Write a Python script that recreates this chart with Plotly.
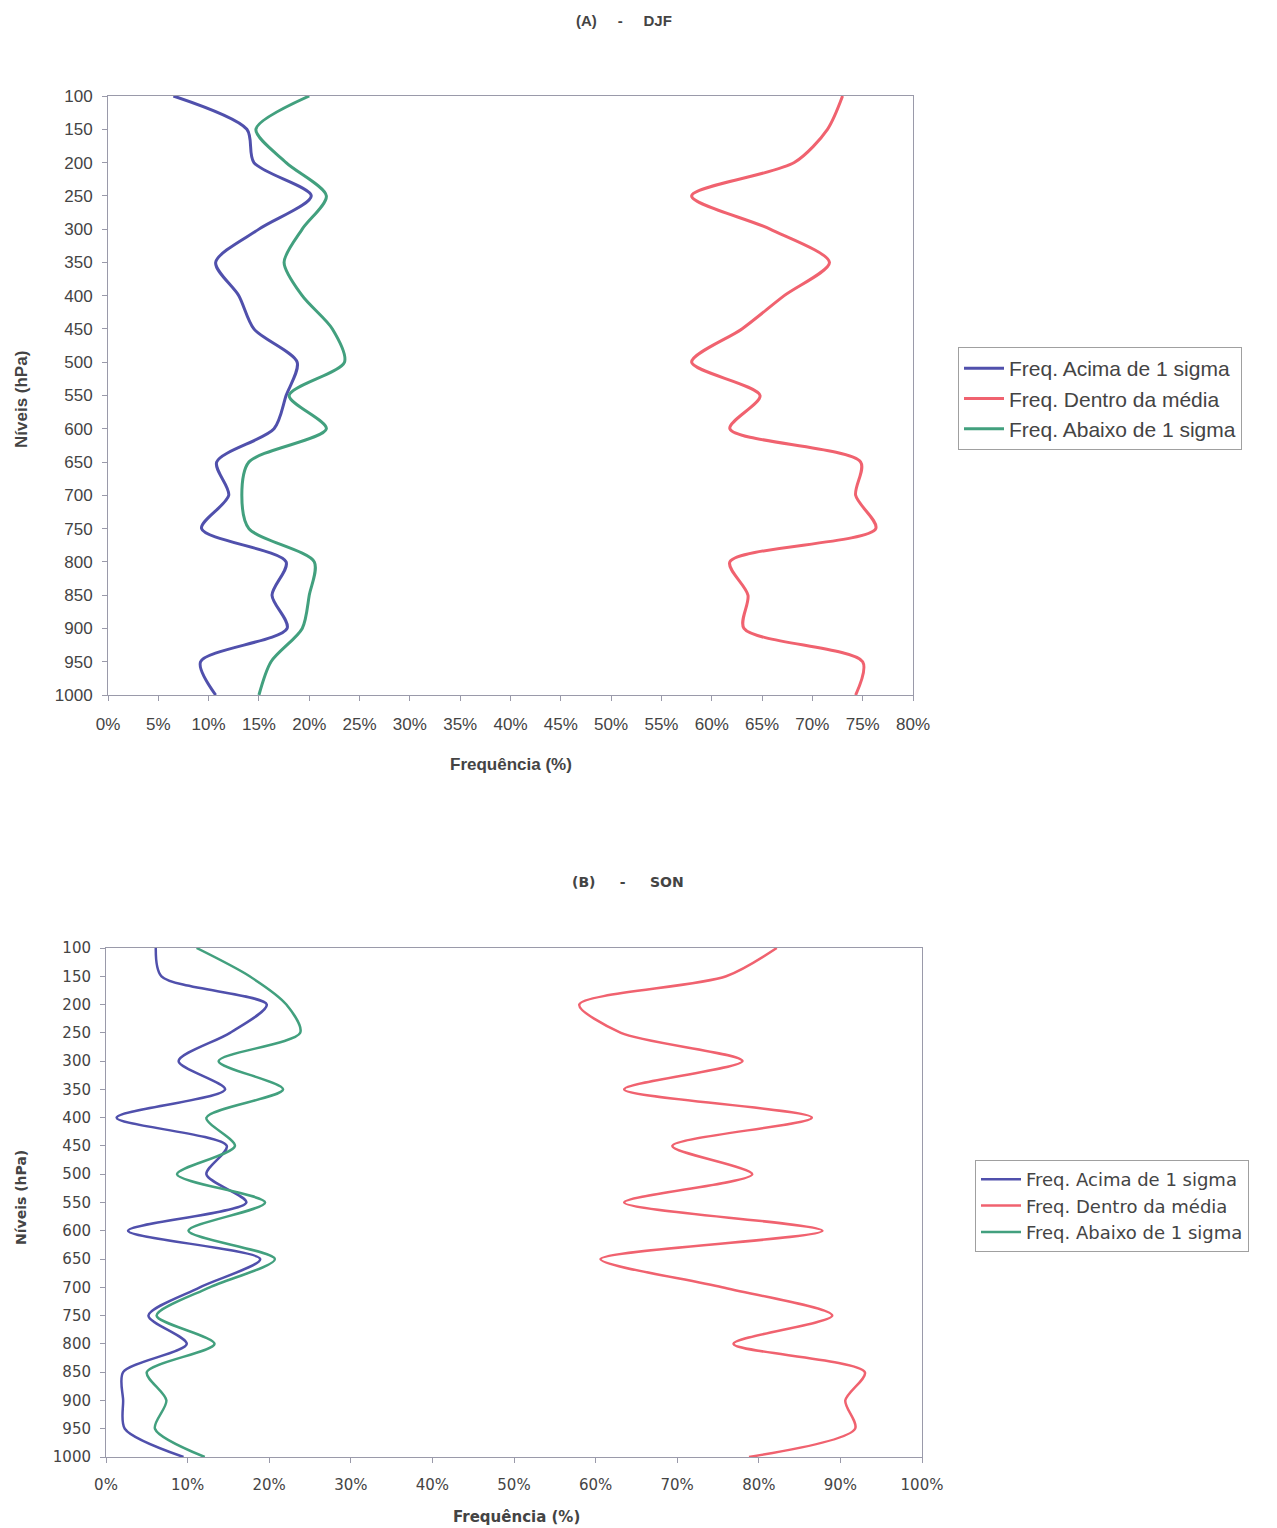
import plotly.graph_objects as go

levels = [100, 150, 200, 250, 300, 350, 400, 450, 500, 550, 600, 650, 700, 750, 800, 850, 900, 950, 1000]

# (A) DJF
djf_acima = [6.5, 13.8, 14.5, 20.2, 15.0, 10.7, 13.0, 14.5, 18.8, 17.7, 16.5, 10.8, 12.0, 9.3, 17.7, 16.3, 17.8, 9.2, 10.7]
djf_dentro = [73.0, 71.5, 68.2, 58.0, 65.8, 71.7, 67.2, 63.0, 58.0, 64.8, 61.8, 74.8, 74.3, 76.3, 61.8, 63.6, 63.2, 75.0, 74.3]
djf_abaixo = [20.0, 14.7, 17.7, 21.7, 19.3, 17.5, 19.3, 22.3, 23.5, 18.0, 21.7, 14.0, 13.3, 14.0, 20.5, 20.0, 19.3, 16.2, 15.0]

# (B) SON
son_acima = [6.1, 6.8, 19.7, 15.2, 8.9, 14.6, 1.3, 14.8, 12.3, 17.2, 2.7, 18.9, 11.5, 5.2, 9.9, 2.1, 2.1, 2.3, 9.5]
son_dentro = [82.2, 76.0, 58.0, 63.1, 78.0, 63.5, 86.5, 69.4, 79.2, 63.5, 87.8, 60.6, 75.5, 89.0, 76.9, 93.0, 90.6, 91.8, 78.8]
son_abaixo = [11.1, 17.6, 22.1, 23.8, 13.8, 21.7, 12.3, 15.8, 8.7, 19.5, 10.1, 20.7, 12.7, 6.2, 13.3, 5.0, 7.4, 6.0, 12.1]

series_names = ["Freq. Acima de 1 sigma", "Freq. Dentro da média", "Freq. Abaixo de 1 sigma"]
colors = ["#5050ac", "#f0626f", "#42a07e"]

W, H = 1277, 1528
OFF = 8  # page body margin
FONT = "Liberation Sans, Arial, sans-serif"
FONT_B = "DejaVu Sans, Liberation Sans, sans-serif"
AXCOL = "#9a9aaa"
TXT = "#444444"

fig = go.Figure()

for vals, name, col in zip([djf_acima, djf_dentro, djf_abaixo], series_names, colors):
    fig.add_trace(go.Scatter(x=vals, y=levels, mode="lines", name=name,
                             line=dict(color=col, width=3, shape="spline", smoothing=0.8),
                             xaxis="x", yaxis="y", legend="legend"))
for vals, name, col in zip([son_acima, son_dentro, son_abaixo], series_names, colors):
    fig.add_trace(go.Scatter(x=vals, y=levels, mode="lines", name=name,
                             line=dict(color=col, width=2.5, shape="spline", smoothing=0.8),
                             xaxis="x2", yaxis="y2", legend="legend2"))


def px_x(p):
    return (p - OFF) / W


def px_y(p):
    return 1 - (p - OFF) / H


common_y = dict(range=[1000, 100], tickvals=levels, showgrid=False, zeroline=False,
                showline=True, mirror=True, linecolor=AXCOL, linewidth=1,
                ticks="outside", ticklen=5, tickcolor=AXCOL, automargin=False,
                ticklabelstandoff=6)
common_x = dict(showgrid=False, zeroline=False, showline=True, mirror=True,
                linecolor=AXCOL, linewidth=1, ticks="outside", ticklen=5, tickcolor=AXCOL,
                ticksuffix="%", automargin=False, ticklabelstandoff=9)

sp = "&nbsp;" * 5

fig.update_layout(
    width=W, height=H,
    margin=dict(l=0, r=0, t=0, b=0, autoexpand=False),
    paper_bgcolor="white", plot_bgcolor="white",
    font=dict(family=FONT, color=TXT),
    xaxis=dict(common_x, domain=[px_x(108), px_x(913)], range=[0, 80], dtick=5,
               tickfont=dict(family=FONT, size=17, color=TXT), anchor="y"),
    yaxis=dict(common_y, domain=[px_y(695), px_y(96)], anchor="x",
               tickfont=dict(family=FONT, size=17, color=TXT)),
    xaxis2=dict(common_x, domain=[px_x(106), px_x(922)], range=[0, 100], dtick=10,
                tickfont=dict(family=FONT_B, size=15, color=TXT), anchor="y2"),
    yaxis2=dict(common_y, domain=[px_y(1457), px_y(948)], anchor="x2",
                tickfont=dict(family=FONT_B, size=15, color=TXT)),
    legend=dict(x=px_x(958), y=px_y(347), xanchor="left", yanchor="top",
                bordercolor="#a0a0a0", borderwidth=1, bgcolor="white",
                font=dict(family=FONT, size=21, color=TXT), tracegroupgap=0,
                itemwidth=40),
    legend2=dict(x=px_x(975), y=px_y(1160), xanchor="left", yanchor="top",
                 bordercolor="#a0a0a0", borderwidth=1, bgcolor="white",
                 font=dict(family=FONT_B, size=18, color=TXT), tracegroupgap=0,
                 itemwidth=40),
    annotations=[
        dict(text=f"<b>(A){sp}-{sp}DJF</b>", x=px_x(624), y=px_y(20), xref="paper", yref="paper",
             xanchor="center", yanchor="middle",
             showarrow=False, font=dict(family=FONT, size=15, color=TXT)),
        dict(text=f"<b>(B){sp}-{sp}SON</b>", x=px_x(628), y=px_y(882), xref="paper", yref="paper",
             xanchor="center", yanchor="middle",
             showarrow=False, font=dict(family=FONT_B, size=14, color=TXT)),
        dict(text="<b>Frequência (%)</b>", x=px_x(511), y=px_y(765), xref="paper", yref="paper",
             xanchor="center", yanchor="middle",
             showarrow=False, font=dict(family=FONT, size=17, color=TXT)),
        dict(text="<b>Frequência (%)</b>", x=px_x(516), y=px_y(1517), xref="paper", yref="paper",
             xanchor="center", yanchor="middle",
             showarrow=False, font=dict(family=FONT_B, size=15, color=TXT)),
        dict(text="<b>Níveis (hPa)</b>", x=px_x(21), y=px_y(400), xref="paper", yref="paper",
             xanchor="center", yanchor="middle",
             showarrow=False, textangle=-90, font=dict(family=FONT, size=17, color=TXT)),
        dict(text="<b>Níveis (hPa)</b>", x=px_x(21), y=px_y(1198), xref="paper", yref="paper",
             xanchor="center", yanchor="middle",
             showarrow=False, textangle=-90, font=dict(family=FONT_B, size=14, color=TXT)),
    ],
)

fig.write_html("out.html")
